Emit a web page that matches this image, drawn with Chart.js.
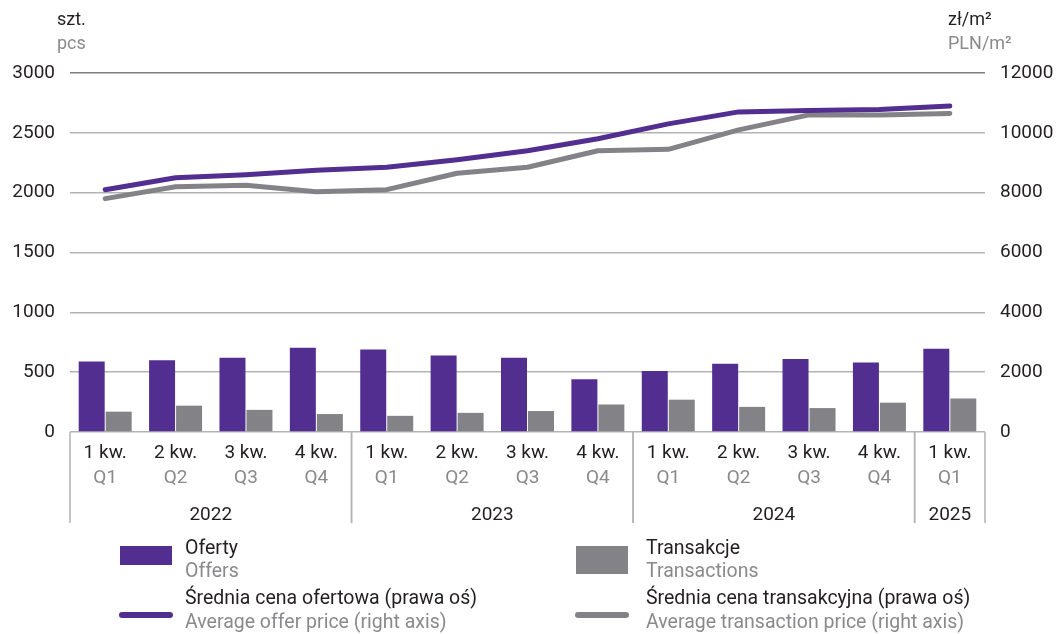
<!DOCTYPE HTML>
<html>
<head>
    <script src="https://cdn.jsdelivr.net/npm/chart.js"></script>
    <style>
        body { margin: 0; background: #ffffff; }
    </style>
</head>
<body>

<canvas id="myChart" width="1058" height="634"></canvas>

<script type="text/javascript">

    // quarters, with polish and english labels
    const quartersPl = ['1 kw.', '2 kw.', '3 kw.', '4 kw.', '1 kw.', '2 kw.', '3 kw.', '4 kw.', '1 kw.', '2 kw.', '3 kw.', '4 kw.', '1 kw.'];
    const quartersEn = ['Q1', 'Q2', 'Q3', 'Q4', 'Q1', 'Q2', 'Q3', 'Q4', 'Q1', 'Q2', 'Q3', 'Q4', 'Q1'];
    const yearOf = ['2022', '2022', '2022', '2022', '2023', '2023', '2023', '2023', '2024', '2024', '2024', '2024', '2025'];

    // left axis (szt.)
    const offers = [590, 600, 620, 705, 690, 640, 620, 440, 510, 570, 610, 580, 695];
    const transactions = [170, 220, 185, 150, 135, 160, 175, 230, 270, 210, 200, 245, 280];

    // right axis (zł/m2)
    const offerPrice = [8100, 8500, 8600, 8750, 8850, 9100, 9400, 9800, 10300, 10700, 10750, 10780, 10900];
    const transPrice = [7800, 8200, 8250, 8030, 8100, 8650, 8850, 9400, 9450, 10100, 10600, 10600, 10650];

    const purple = '#522e91';
    const grey = '#838387';
    const dark = '#231f20';
    const light = '#8a8a8d';
    const fontFamily = 'Roboto, "Noto Sans", sans-serif';

    const labels = quartersPl.map((q, i) => q + ' ' + quartersEn[i] + ' ' + yearOf[i]);

    // draws quarter/year labels under the axis, units and the legend
    const extras = {
        id: 'extras',
        afterDraw(chart) {
            const ctx = chart.ctx;
            const xs = chart.scales.x;
            const area = chart.chartArea;
            const half = (xs.getPixelForValue(1) - xs.getPixelForValue(0)) / 2;

            ctx.save();
            ctx.textBaseline = 'middle';
            ctx.textAlign = 'center';

            for (let i = 0; i < quartersPl.length; i++) {
                const x = xs.getPixelForValue(i);
                ctx.font = '19px ' + fontFamily;
                ctx.fillStyle = dark;
                ctx.fillText(quartersPl[i], x, 453);
                ctx.fillStyle = light;
                ctx.fillText(quartersEn[i], x, 478);
            }

            // year groups with separators
            ctx.strokeStyle = '#b3b3b5';
            ctx.lineWidth = 1.5;
            let start = 0;
            for (let i = 1; i <= yearOf.length; i++) {
                if (i === yearOf.length || yearOf[i] !== yearOf[start]) {
                    const x0 = xs.getPixelForValue(start) - half;
                    const x1 = xs.getPixelForValue(i - 1) + half;
                    ctx.fillStyle = dark;
                    ctx.font = '19px ' + fontFamily;
                    ctx.fillText(yearOf[start], (x0 + x1) / 2, 515);
                    ctx.beginPath();
                    ctx.moveTo(x0, area.bottom);
                    ctx.lineTo(x0, 523);
                    ctx.moveTo(x1, area.bottom);
                    ctx.lineTo(x1, 523);
                    ctx.stroke();
                    start = i;
                }
            }

            // axis units
            ctx.textAlign = 'left';
            ctx.font = '18px ' + fontFamily;
            ctx.fillStyle = dark;
            ctx.fillText('szt.', 57, 20);
            ctx.fillText('zł/m²', 948, 20);
            ctx.fillStyle = light;
            ctx.fillText('pcs', 57, 44);
            ctx.fillText('PLN/m²', 948, 44);

            // legend
            ctx.fillStyle = purple;
            ctx.fillRect(120, 546, 52, 19);
            ctx.fillStyle = grey;
            ctx.fillRect(576, 546, 52, 28);

            ctx.lineCap = 'round';
            ctx.lineWidth = 6;
            ctx.strokeStyle = purple;
            ctx.beginPath();
            ctx.moveTo(122, 615);
            ctx.lineTo(170, 615);
            ctx.stroke();
            ctx.strokeStyle = grey;
            ctx.beginPath();
            ctx.moveTo(578, 615);
            ctx.lineTo(626, 615);
            ctx.stroke();

            ctx.font = '19.5px ' + fontFamily;
            ctx.fillStyle = dark;
            ctx.fillText('Oferty', 185, 549);
            ctx.fillText('Średnia cena ofertowa (prawa oś)', 185, 599);
            ctx.fillText('Transakcje', 646, 549);
            ctx.fillText('Średnia cena transakcyjna (prawa oś)', 646, 599);
            ctx.fillStyle = light;
            ctx.fillText('Offers', 185, 572);
            ctx.fillText('Average offer price (right axis)', 185, 623);
            ctx.fillText('Transactions', 646, 572);
            ctx.fillText('Average transaction price (right axis)', 646, 623);

            ctx.restore();
        }
    };

    const data = {
        labels: labels,
        datasets: [
            {
                type: 'line',
                label: 'Średnia cena ofertowa (prawa oś)',
                data: offerPrice,
                yAxisID: 'y1',
                borderColor: purple,
                borderWidth: 5,
                pointRadius: 0,
                borderCapStyle: 'round',
                borderJoinStyle: 'round',
                tension: 0,
                order: 0
            },
            {
                type: 'line',
                label: 'Średnia cena transakcyjna (prawa oś)',
                data: transPrice,
                yAxisID: 'y1',
                borderColor: grey,
                borderWidth: 5,
                pointRadius: 0,
                borderCapStyle: 'round',
                borderJoinStyle: 'round',
                tension: 0,
                order: 1
            },
            {
                type: 'bar',
                label: 'Oferty',
                data: offers,
                yAxisID: 'y',
                backgroundColor: purple,
                categoryPercentage: 0.767,
                barPercentage: 0.963,
                order: 2
            },
            {
                type: 'bar',
                label: 'Transakcje',
                data: transactions,
                yAxisID: 'y',
                backgroundColor: grey,
                categoryPercentage: 0.767,
                barPercentage: 0.963,
                order: 2
            }
        ]
    };

    const config = {
        data: data,
        plugins: [extras],
        options: {
            responsive: false,
            animation: false,
            layout: { padding: { top: 73, bottom: 202, left: 0, right: 0 } },
            plugins: {
                legend: { display: false },
                tooltip: { enabled: false }
            },
            scales: {
                x: {
                    display: false
                },
                y: {
                    position: 'left',
                    min: 0,
                    max: 3000,
                    afterFit: (s) => { s.width = 70; },
                    border: { display: false },
                    grid: {
                        drawTicks: false,
                        lineWidth: 1.5,
                        color: (c) => c.tick && c.tick.value === 3000 ? '#7d7d80' : '#b3b3b5'
                    },
                    ticks: {
                        stepSize: 500,
                        padding: 15,
                        color: dark,
                        font: { family: fontFamily, size: 19 },
                        callback: (v) => String(v)
                    }
                },
                y1: {
                    position: 'right',
                    min: 0,
                    max: 12000,
                    afterFit: (s) => { s.width = 73; },
                    border: { display: false },
                    grid: { display: false, drawTicks: false },
                    ticks: {
                        stepSize: 2000,
                        padding: 15,
                        color: dark,
                        font: { family: fontFamily, size: 19 },
                        callback: (v) => String(v)
                    }
                }
            }
        }
    };

    const myChart = new Chart(document.getElementById('myChart'), config);

</script>
</body>
</html>
